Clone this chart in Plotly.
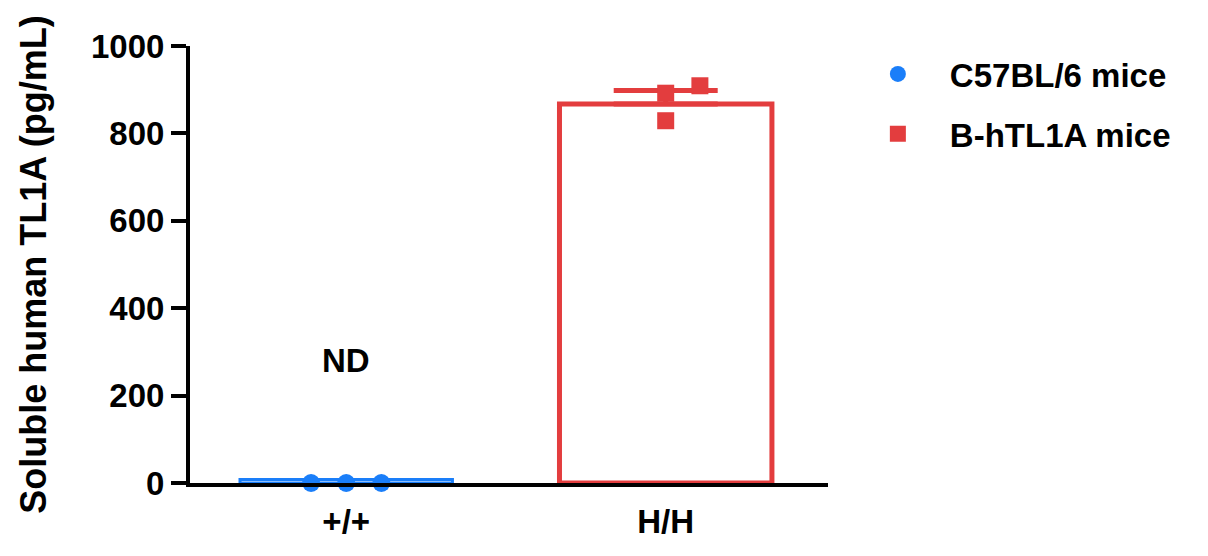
import plotly.graph_objects as go

# genotypes on the x axis
genotypes = ["+/+", "H/H"]
groups = ["C57BL/6 mice", "B-hTL1A mice"]

# bar heights (mean) and upper SEM, pg/mL
means = [8, 867]
sems = [0, 31]

# individual mice
wt_values = [0, 0, 0]
wt_offsets = [-0.11, 0, 0.11]
h_values = [892, 829, 909]
h_offsets = [0, 0, 0.107]

colors = ["#1a7ef9", "#e33d3e"]
bar_lw = [3, 5]
FONT = "Arial, Liberation Sans, Helvetica, sans-serif"

fig = go.Figure()

for i, g in enumerate(groups):
    fig.add_trace(go.Bar(
        x=[i],
        y=[means[i]],
        width=0.665,
        marker=dict(color="white", line=dict(color=colors[i], width=bar_lw[i])),
        error_y=dict(type="data", array=[sems[i]], arrayminus=[0], symmetric=False,
                     visible=sems[i] > 0, color=colors[i], thickness=5, width=52),
        showlegend=False,
        hoverinfo="skip",
    ))

fig.add_trace(go.Scatter(
    x=[0 + o for o in wt_offsets], y=wt_values, mode="markers",
    name=groups[0], legendgroup="a",
    marker=dict(symbol="circle", size=18, color=colors[0]),
    cliponaxis=False,
))
fig.add_trace(go.Scatter(
    x=[1 + o for o in h_offsets], y=h_values, mode="markers",
    name=groups[1], legendgroup="b",
    marker=dict(symbol="square", size=17, color=colors[1]),
    cliponaxis=False,
))

fig.add_annotation(x=0, y=281, text="ND", showarrow=False,
                   font=dict(family=FONT, size=33, color="black", weight="bold"))

# the page body has an 8px margin, so the margins are shifted to compensate
fig.update_layout(
    width=1208, height=556,
    margin=dict(l=182, r=388, t=38, b=81),
    paper_bgcolor="white", plot_bgcolor="white",
    barmode="overlay",
    font=dict(family=FONT, size=33, color="black", weight="bold"),
    legend=dict(x=1.028, y=1.0, xanchor="left", yanchor="top",
                traceorder="grouped", tracegroupgap=14,
                font=dict(family=FONT, size=33, color="black", weight="bold"),
                itemwidth=94),
    xaxis=dict(
        range=[-0.489, 1.508],
        tickvals=[0, 1], ticktext=genotypes,
        showline=True, linecolor="black", linewidth=4,
        ticks="", showgrid=False, zeroline=False,
        ticklabelstandoff=6,
    ),
    yaxis=dict(
        range=[0, 1000], dtick=200,
        showline=True, linecolor="black", linewidth=4,
        ticks="outside", ticklen=15, tickwidth=4, tickcolor="black",
        showgrid=False, zeroline=False,
        title=dict(text="Soluble human TL1A (pg/mL)", standoff=34,
                   font=dict(family=FONT, size=36, weight="bold")),
    ),
)

fig.write_html("out.html")
